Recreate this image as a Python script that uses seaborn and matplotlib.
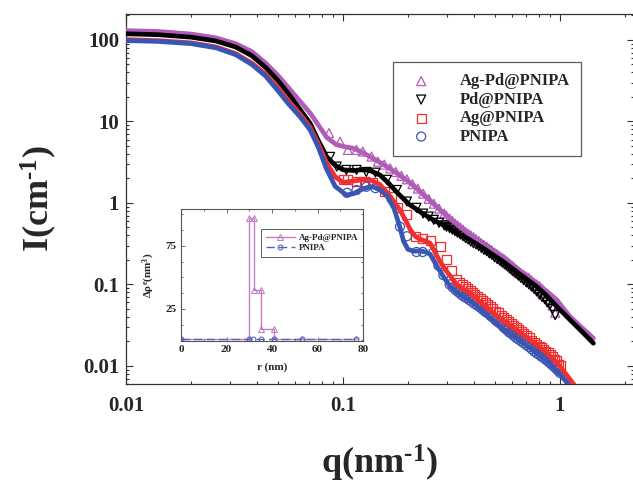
import matplotlib
matplotlib.use("Agg")
import matplotlib.pyplot as plt
import seaborn as sns
from matplotlib.ticker import NullFormatter, LogLocator, MultipleLocator

# ---- fitted curves (q in nm^-1, I in cm^-1) ----
q_fit_agpd = [0.010, 0.014, 0.020, 0.026, 0.032, 0.038, 0.044, 0.050, 0.056, 0.063, 0.0705,
              0.077, 0.084, 0.093, 0.103, 0.111, 0.122, 0.133, 0.146, 0.159, 0.18, 0.204,
              0.24, 0.289, 0.33, 0.385, 0.45, 0.548, 0.65, 0.781, 0.87, 0.966, 1.04, 1.112,
              1.25, 1.424]
I_fit_agpd = [130, 127, 118, 106, 90, 72, 52, 37, 26, 18, 12.7,
              9.0, 6.4, 5.2, 4.85, 4.7, 4.2, 3.7, 3.2, 2.8, 2.25, 1.76,
              1.2, 0.76, 0.56, 0.405, 0.3, 0.219, 0.15, 0.1035, 0.082, 0.0646, 0.05, 0.0403,
              0.03, 0.0219]

q_fit_pd = [0.010, 0.014, 0.020, 0.026, 0.032, 0.038, 0.044, 0.050, 0.056, 0.0634, 0.0705,
            0.077, 0.084, 0.092, 0.100, 0.111, 0.122, 0.133, 0.148, 0.162, 0.177, 0.20,
            0.226, 0.26, 0.30, 0.34, 0.385, 0.45, 0.548, 0.65, 0.781, 0.87, 0.966, 1.04,
            1.112, 1.25, 1.424]
I_fit_pd = [119, 116, 108, 97, 82, 64, 46, 32, 22, 14, 9.5,
            5.8, 3.7, 2.9, 2.55, 2.5, 2.55, 2.5, 2.2, 1.75, 1.35, 0.98,
            0.78, 0.62, 0.51, 0.42, 0.352, 0.27, 0.19, 0.135, 0.094, 0.072, 0.0534, 0.044,
            0.0367, 0.027, 0.019]

q_fit_ag = [0.010, 0.014, 0.020, 0.026, 0.032, 0.038, 0.044, 0.050, 0.056, 0.0634, 0.0705,
            0.077, 0.084, 0.092, 0.100, 0.111, 0.122, 0.133, 0.148, 0.165, 0.183, 0.195,
            0.204, 0.215, 0.226, 0.24, 0.252, 0.265, 0.28, 0.30, 0.334, 0.365, 0.385, 0.428,
            0.48, 0.546, 0.618, 0.70, 0.78, 0.87, 0.97, 1.077, 1.17]
I_fit_ag = [101, 98, 92, 82, 68, 52, 38, 26, 18, 12.3, 8.5,
            5.3, 3.1, 2.1, 1.78, 1.85, 1.92, 1.92, 1.68, 1.2, 0.82, 0.6,
            0.47, 0.39, 0.36, 0.34, 0.32, 0.25, 0.19, 0.145, 0.1, 0.085, 0.078, 0.061,
            0.047, 0.036, 0.0285, 0.0225, 0.018, 0.0144, 0.0108, 0.0076, 0.0057]

q_fit_pn = [0.010, 0.014, 0.020, 0.026, 0.032, 0.038, 0.044, 0.050, 0.056, 0.0634, 0.0705,
            0.077, 0.084, 0.092, 0.1035, 0.112, 0.12, 0.13, 0.137, 0.148, 0.16, 0.172,
            0.183, 0.19, 0.199, 0.212, 0.226, 0.24, 0.252, 0.27, 0.29, 0.311, 0.335, 0.357,
            0.385, 0.428, 0.48, 0.546, 0.618, 0.70, 0.78, 0.87, 0.97, 1.077, 1.12]
I_fit_pn = [98, 96, 90, 80, 66, 50, 36, 24, 16.5, 11.4, 7.9,
            4.8, 2.6, 1.6, 1.25, 1.3, 1.44, 1.55, 1.58, 1.45, 1.2, 0.85,
            0.5, 0.34, 0.27, 0.255, 0.258, 0.25, 0.235, 0.17, 0.125, 0.095, 0.08, 0.071,
            0.063, 0.05, 0.038, 0.0285, 0.0225, 0.0178, 0.0144, 0.0116, 0.0087, 0.0062, 0.0054]

# ---- measured points ----
q_dat_agpd = [0.0862, 0.0969, 0.1053, 0.1154, 0.1233, 0.1354, 0.1448, 0.155, 0.165, 0.175,
              0.186, 0.197, 0.209, 0.221, 0.234, 0.248, 0.262, 0.277, 0.293, 0.31, 0.328,
              0.347, 0.367, 0.388, 0.41, 0.434, 0.459, 0.485, 0.513, 0.543, 0.574, 0.607,
              0.642, 0.679, 0.718, 0.759, 0.803, 0.849, 0.898, 0.95,
              0.3, 0.319, 0.337, 0.357, 0.377, 0.399, 0.422, 0.446, 0.472, 0.499, 0.528,
              0.558, 0.59, 0.624, 0.66, 0.698, 0.738, 0.78, 0.826, 0.873, 0.924]
I_dat_agpd = [7.2, 5.65, 4.47, 4.47, 4.27, 3.71, 3.21, 2.95, 2.65, 2.4,
              2.15, 1.95, 1.7, 1.5, 1.3, 1.12, 0.98, 0.85, 0.74, 0.64, 0.56,
              0.5, 0.44, 0.4, 0.36, 0.32, 0.29, 0.26, 0.235, 0.205, 0.18, 0.158,
              0.14, 0.13, 0.12, 0.105, 0.095, 0.08, 0.065, 0.045,
              0.69, 0.6, 0.53, 0.47, 0.42, 0.38, 0.34, 0.305, 0.275, 0.245, 0.22,
              0.19, 0.17, 0.148, 0.135, 0.125, 0.112, 0.1, 0.088, 0.072, 0.055]

q_dat_pd = [0.0872, 0.0935, 0.1036, 0.1154, 0.128, 0.141, 0.159, 0.177, 0.197, 0.218,
            0.234, 0.248, 0.262, 0.277, 0.293, 0.31, 0.328, 0.347, 0.367, 0.388, 0.41,
            0.434, 0.459, 0.485, 0.513, 0.543, 0.574, 0.607, 0.642, 0.679, 0.718, 0.759,
            0.803, 0.849, 0.898, 0.95,
            0.3, 0.319, 0.337, 0.357, 0.377, 0.399, 0.422, 0.446, 0.472, 0.499, 0.528,
            0.558, 0.59, 0.624, 0.66, 0.698, 0.738, 0.78, 0.826, 0.873, 0.924]
I_dat_pd = [3.67, 2.79, 2.54, 2.54, 2.4, 2.35, 1.92, 1.44, 1.04, 0.87,
            0.74, 0.68, 0.62, 0.57, 0.53, 0.49, 0.45, 0.41, 0.37, 0.335, 0.31,
            0.28, 0.255, 0.23, 0.205, 0.185, 0.165, 0.145, 0.128, 0.113, 0.1, 0.088,
            0.075, 0.066, 0.056, 0.042,
            0.51, 0.47, 0.43, 0.39, 0.355, 0.32, 0.295, 0.265, 0.24, 0.215, 0.195,
            0.175, 0.155, 0.137, 0.12, 0.106, 0.094, 0.082, 0.07, 0.06, 0.05]

q_dat_ag = [0.1, 0.105, 0.1154, 0.126, 0.137, 0.156, 0.167, 0.179, 0.197, 0.215, 0.233,
            0.252, 0.28, 0.30, 0.316, 0.335, 0.355, 0.375, 0.395, 0.415, 0.44, 0.465,
            0.49, 0.52, 0.55, 0.58, 0.61, 0.645, 0.68, 0.72, 0.76, 0.8, 0.84, 0.88,
            0.92, 0.96, 1.0,
            0.345, 0.365, 0.385, 0.405, 0.428, 0.452, 0.478, 0.505, 0.535, 0.565, 0.595,
            0.628, 0.662, 0.7, 0.74, 0.78, 0.82, 0.86, 0.9, 0.94, 0.98]
I_dat_ag = [1.92, 1.92, 1.84, 1.84, 1.76, 1.37, 1.2, 0.87, 0.72, 0.39, 0.37,
            0.35, 0.29, 0.2, 0.15, 0.115, 0.1, 0.088, 0.08, 0.072, 0.064, 0.057,
            0.05, 0.045, 0.039, 0.035, 0.031, 0.028, 0.025, 0.022, 0.0195, 0.0175, 0.016, 0.0145,
            0.013, 0.0115, 0.01,
            0.106, 0.094, 0.084, 0.076, 0.068, 0.06, 0.054, 0.047, 0.042, 0.037, 0.033,
            0.0295, 0.0265, 0.0235, 0.0205, 0.0185, 0.0168, 0.015, 0.0137, 0.012, 0.0105]

q_dat_pn = [0.1043, 0.1154, 0.128, 0.141, 0.183, 0.197, 0.218, 0.233, 0.26, 0.275, 0.29,
            0.31, 0.33, 0.35, 0.37, 0.39, 0.415, 0.44, 0.465, 0.49, 0.52, 0.55,
            0.58, 0.61, 0.645, 0.68, 0.72, 0.76, 0.8, 0.84, 0.88, 0.92, 0.96, 1.0,
            0.32, 0.34, 0.36, 0.38, 0.402, 0.428, 0.452, 0.478, 0.505, 0.535, 0.565,
            0.595, 0.628, 0.662, 0.7, 0.74, 0.78, 0.82, 0.86, 0.9, 0.94, 0.98]
I_dat_pn = [1.33, 1.44, 1.58, 1.52, 0.51, 0.39, 0.25, 0.25, 0.245, 0.17, 0.13,
            0.1, 0.085, 0.075, 0.068, 0.062, 0.055, 0.049, 0.044, 0.039, 0.034, 0.0295,
            0.026, 0.0235, 0.021, 0.019, 0.017, 0.015, 0.0137, 0.0125, 0.0113, 0.0102, 0.0092, 0.0082,
            0.092, 0.08, 0.071, 0.065, 0.058, 0.052, 0.046, 0.041, 0.036, 0.032, 0.028,
            0.025, 0.022, 0.02, 0.018, 0.016, 0.0143, 0.013, 0.0119, 0.0108, 0.0097, 0.0087]

# ---- inset: electron density contrast profiles ----
r_agpd = [0, 30, 30, 32, 32, 35, 35, 41, 41, 53, 77]
drho_agpd = [1, 1, 97, 97, 40, 40, 9, 9, 1, 1, 1]
r_pnipa = [0, 30, 31.5, 35, 41, 53, 77]
drho_pnipa = [1, 1, 1, 1, 1, 1, 1]

labels = ["Ag-Pd@PNIPA", "Pd@PNIPA", "Ag@PNIPA", "PNIPA"]
colors = ["#b05cb8", "black", "#f03030", "#3a56b4"]
markers = ["^", "v", "s", "o"]

sns.set_theme(style="ticks")
plt.rcParams["font.family"] = ["Liberation Serif", "DejaVu Serif"]
plt.rcParams["font.weight"] = "bold"
plt.rcParams["mathtext.fontset"] = "custom"
plt.rcParams["mathtext.rm"] = "Liberation Serif:bold"
plt.rcParams["mathtext.it"] = "Liberation Serif:bold"
plt.rcParams["mathtext.bf"] = "Liberation Serif:bold"

fig = plt.figure(figsize=(6.33, 4.83), dpi=100)
ax = fig.add_axes([0.199, 0.205, 0.8025, 0.766])
ax.set_xscale("log")
ax.set_yscale("log")

fits = [(q_fit_agpd, I_fit_agpd), (q_fit_pd, I_fit_pd), (q_fit_ag, I_fit_ag), (q_fit_pn, I_fit_pn)]
dats = [(q_dat_agpd, I_dat_agpd), (q_dat_pd, I_dat_pd), (q_dat_ag, I_dat_ag), (q_dat_pn, I_dat_pn)]

for (qd, Id), lab, c, m in zip(dats, labels, colors, markers):
    sns.scatterplot(x=qd, y=Id, marker=m, s=42, facecolor="none", edgecolor=c,
                    linewidth=0.9, label=lab, ax=ax, zorder=2)

for (qf, If), c in zip(fits, colors):
    sns.lineplot(x=qf, y=If, color=c, linewidth=3.4, estimator=None, sort=False,
                 legend=False, ax=ax, zorder=3)

ax.set_xlim(0.01, 2.19)
ax.set_ylim(0.006, 208)
ax.set_xticks([0.01, 0.1, 1])
ax.set_xticklabels(["0.01", "0.1", "1"])
ax.set_yticks([0.01, 0.1, 1, 10, 100])
ax.set_yticklabels(["0.01", "0.1", "1", "10", "100"])
ax.xaxis.set_minor_locator(LogLocator(base=10, subs=range(2, 10)))
ax.yaxis.set_minor_locator(LogLocator(base=10, subs=range(2, 10)))
ax.xaxis.set_minor_formatter(NullFormatter())
ax.yaxis.set_minor_formatter(NullFormatter())
ax.tick_params(which="both", direction="in", top=True, right=True, width=0.8, color="#333333")
ax.tick_params(which="major", length=5)
ax.tick_params(which="minor", length=2.5)
ax.tick_params(axis="x", which="major", pad=9, labelsize=15)
ax.tick_params(axis="y", which="major", pad=5, labelsize=15)
for sp in ax.spines.values():
    sp.set_linewidth(0.9)
    sp.set_color("#333333")

ax.set_xlabel("q(nm$^{\u20101}$)", fontsize=26, fontweight="bold", labelpad=19)
ax.set_ylabel("I(cm$^{\u20101}$)", fontsize=26, fontweight="bold", labelpad=17)

leg = ax.legend(loc="upper left", bbox_to_anchor=(0.526, 0.870), borderaxespad=0,
                frameon=True, fancybox=False, fontsize=12, handletextpad=1.3,
                borderpad=0.68, labelspacing=0.15, handlelength=2.0)
leg.get_frame().set_edgecolor("#333333")
leg.get_frame().set_linewidth(0.9)
for t in leg.get_texts():
    t.set_fontweight("bold")

# ---- inset ----
ins = fig.add_axes([0.286, 0.294, 0.2875, 0.273])
sns.lineplot(x=r_agpd, y=drho_agpd, color="#c47cc4", linewidth=1.0, marker="^",
             markersize=4, markerfacecolor="none", markeredgecolor="#c47cc4",
             estimator=None, sort=False, label="Ag-Pd@PNIPA", ax=ins)
sns.lineplot(x=r_pnipa, y=drho_pnipa, color="#4f63c0", linewidth=1.0, marker="o",
             markersize=3.5, markerfacecolor="none", markeredgecolor="#4f63c0",
             linestyle=(0, (6, 3)), estimator=None, sort=False, label="PNIPA", ax=ins)
ins.set_xlim(0, 80)
ins.set_ylim(-0.5, 104)
ins.set_xticks([0, 20, 40, 60, 80])
ins.set_yticks([25, 75])
ins.xaxis.set_minor_locator(MultipleLocator(10))
ins.yaxis.set_minor_locator(MultipleLocator(12.5))
ins.tick_params(which="both", direction="in", top=True, right=True, width=0.6,
                color="#555555", labelsize=8, pad=3)
ins.tick_params(which="major", length=3)
ins.tick_params(which="minor", length=1.5)
for sp in ins.spines.values():
    sp.set_linewidth(0.8)
    sp.set_color("#555555")
ins.set_xlabel("r (nm)", fontsize=8, fontweight="bold", labelpad=6)
ins.set_ylabel("Δρ$^{e}$(nm$^{3}$)", fontsize=8, fontweight="bold", labelpad=6)
il = ins.legend(loc="upper left", bbox_to_anchor=(0.44, 0.848), borderaxespad=0,
                frameon=True, fancybox=False, fontsize=6.5, handlelength=3.2,
                borderpad=0.5, labelspacing=0.2, handletextpad=0.5)
il.get_frame().set_edgecolor("#333333")
il.get_frame().set_linewidth(0.7)
for t in il.get_texts():
    t.set_fontweight("bold")

fig.savefig("out.png", dpi=100)
